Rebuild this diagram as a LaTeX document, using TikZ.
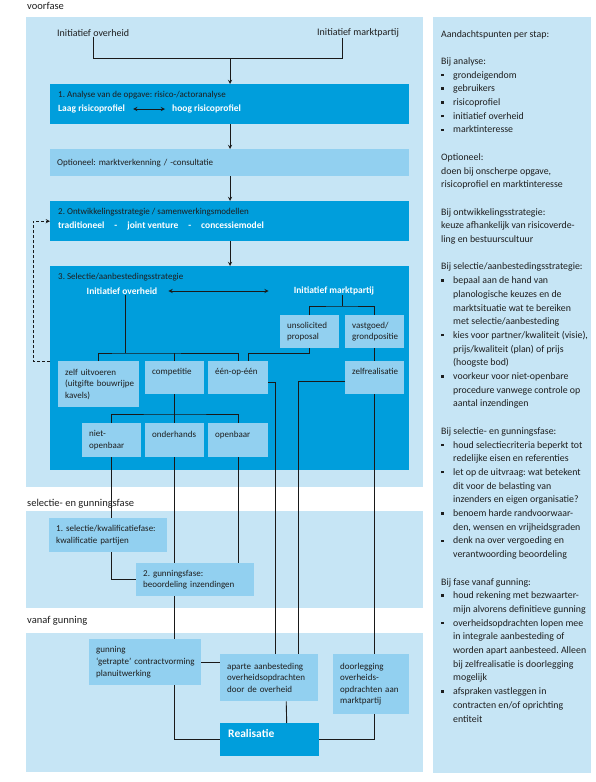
\documentclass[tikz,border=0pt]{standalone}
\usepackage{fontspec}
\setmainfont{Carlito}
\definecolor{phaseblue}{RGB}{0,158,220}
\definecolor{phaselight}{RGB}{198,229,245}
\definecolor{phasemid}{RGB}{146,208,240}
\definecolor{phasetext}{RGB}{30,30,30}
\usetikzlibrary{positioning}
\hyphenpenalty=10000
\exhyphenpenalty=10000
\newcommand{\noteitem}{\makebox[12pt][l]{\rule[2pt]{2.4pt}{2.4pt}}}
\newcommand{\notecont}{\hspace*{12pt}}

\begin{document}
\frenchspacing
\begin{tikzpicture}[x=1pt, y=-1pt, font=\fontsize{9}{11.6}\selectfont, text=phasetext]
    \tikzstyle{panel} = [fill=phaselight]
    \tikzstyle{darkbox} = [rectangle, fill=phaseblue, anchor=north west, inner sep=0pt]
    \tikzstyle{midbox} = [rectangle, fill=phasemid, anchor=north west, align=left,
        inner xsep=7pt, inner ysep=3pt]
    \tikzstyle{toptext} = [text depth=12pt]
    \tikzstyle{boxtext} = [anchor=west, inner sep=0pt]
    \tikzstyle{whitetext} = [anchor=west, inner sep=0pt, text=white,
        font=\fontsize{9.5}{11.6}\selectfont\bfseries]
    \tikzstyle{phasetitle} = [anchor=west, inner sep=0pt, font=\fontsize{10.5}{12}\selectfont]
    \tikzstyle{conn} = [line width=0.9pt, draw=black!90]
    \tikzstyle{arrow} = [conn, ->, >=stealth]

    \useasboundingbox (0,0) rectangle (596,782);
    \fill[panel] (26,17) rectangle (423,487);
    \fill[panel] (26,511) rectangle (423,608);
    \fill[panel] (26,633) rectangle (423,772);
    \fill[panel] (433,17) rectangle (591,773);

    \node[phasetitle] (voorfase) at (27,6) {voorfase};
    \node[phasetitle] (selfase) at (27,504) {selectie- en gunningsfase};
    \node[phasetitle] (vanaf) at (27,621) {vanaf gunning};

    \node[boxtext, font=\fontsize{10}{12}\selectfont] (initO) at (57,33) {Initiatief overheid};
    \node[boxtext, font=\fontsize{10}{12}\selectfont] (initM) at (317,33) {Initiatief marktpartij};

    \node[darkbox, minimum width=359pt, minimum height=40pt] (analyse) at (50,84) {};
    \node[boxtext] (analyseT) at (58,95) {1. Analyse van de opgave: risico-/actoranalyse};
    \node[whitetext] (laag) at (58,109) {Laag risicoprofiel};
    \node[whitetext] (hoog) at (172,109) {hoog risicoprofiel};

    \node[midbox, text width=345pt, minimum height=27pt] (verkenning) at (50,149) {Optioneel: marktverkenning / -consultatie};

    \node[darkbox, minimum width=359pt, minimum height=40pt] (strategie) at (50,201) {};
    \node[boxtext] (strategieT) at (58,212) {2. Ontwikkelingsstrategie / samenwerkingsmodellen};
    \node[whitetext] (modellen) at (58,226) {traditioneel\hspace{10pt}-\hspace{10pt}joint venture\hspace{10pt}-\hspace{10pt}concessiemodel};

    \node[darkbox, minimum width=359pt, minimum height=204pt] (selectie) at (50,266) {};
    \node[boxtext] (selectieT) at (58,277) {3. Selectie/aanbestedingsstrategie};
    \node[whitetext, anchor=center] (iO) at (122,291) {Initiatief overheid};
    \node[whitetext, anchor=center] (iM) at (334,291) {Initiatief marktpartij};

    \node[midbox, text width=45pt, minimum height=33pt] (unsol) at (280,315) {unsolicited\\proposal};
    \node[midbox, text width=45pt, minimum height=33pt] (vastgoed) at (345,315) {vastgoed/\\grondpositie};
    \node[midbox, text width=67pt, minimum height=46pt] (zelf) at (58,361) {zelf~uitvoeren\\(uitgifte~bouwrijpe\\kavels)};
    \node[midbox, toptext, text width=45pt, minimum height=33pt] (comp) at (145,361) {competitie};
    \node[midbox, toptext, text width=46pt, minimum height=33pt] (een) at (208,361) {één-op-één};
    \node[midbox, toptext, text width=45pt, minimum height=33pt] (zelfreal) at (345,361) {zelfrealisatie};
    \node[midbox, text width=45pt, minimum height=34pt] (niet) at (82,423) {niet-\\openbaar};
    \node[midbox, toptext, text width=45pt, minimum height=34pt] (onderh) at (145,423) {onderhands};
    \node[midbox, toptext, text width=46pt, minimum height=34pt] (openb) at (208,423) {openbaar};

    \node[midbox, text width=104pt, minimum height=34pt] (kwal) at (49,518) {1.~selectie/kwalificatiefase:\\kwalificatie~partijen};
    \node[midbox, text width=104pt, minimum height=33pt] (gunf) at (136,563) {2.~gunningsfase:\\beoordeling~inzendingen};

    \node[midbox, text width=98pt, minimum height=46pt] (gunning) at (89,639) {gunning\\`getrapte'~contractvorming\\planuitwerking};
    \node[midbox, text width=84pt, minimum height=47pt] (aparte) at (220,654) {aparte~aanbesteding\\overheidsopdrachten\\door~de~overheid};
    \node[midbox, text width=62pt, minimum height=60pt] (doorleg) at (333,654) {doorlegging\\overheids-\\opdrachten~aan\\marktpartij};
    \node[darkbox, toptext, align=left, inner xsep=8pt, text width=83pt, minimum height=33pt,
        text=white, font=\fontsize{11.5}{13}\selectfont\bfseries] (realisatie) at (220,723) {Realisatie};

    \coordinate (topjoin) at (230,58);
    \coordinate (mktdrop) at (342,58);
    \coordinate (ovbar) at (125,353);
    \coordinate (unsolbar) at (248,353);
    \coordinate (mktbar) at (342,306);
    \coordinate (compbar) at (175,414);
    \coordinate (eenline) at (275,382);
    \coordinate (zelfline) at (298,381);

    \draw[conn] (initO.south) |- (mktdrop) -- (mktdrop |- initM.south);
    \draw[arrow] (topjoin) -- (topjoin |- analyse.north);
    \draw[arrow] (analyse.south -| topjoin) -- (verkenning.north -| topjoin);
    \draw[arrow] (verkenning.south -| topjoin) -- (strategie.north -| topjoin);
    \draw[arrow] (strategie.south -| topjoin) -- (selectie.north -| topjoin);
    \draw[arrow, <->, shorten <=8pt, shorten >=7pt] (laag) -- (hoog);
    \draw[arrow, <->, shorten <=11pt, shorten >=25pt] (iO) -- (iM);
    \draw[arrow, dash pattern=on 3pt off 2pt] (selectie.west |- zelf.north) -- ++(-17,0) |- (strategie.west);

    \draw[conn] (ovbar |- iO.south) -- (ovbar);
    \draw[conn] (zelf.north) |- (ovbar) -| (een.north);
    \draw[conn] (comp.north) -- (comp.north |- ovbar);
    \draw[conn] (unsol.south) |- (unsolbar) -- (unsolbar |- een.north);
    \draw[conn] (mktbar |- iM.south) -- (mktbar);
    \draw[conn] (unsol.north) |- (mktbar) -| (vastgoed.north);
    \draw[conn] (vastgoed) -- (zelfreal);
    \draw[conn] (comp) -- (onderh);
    \draw[conn] (niet.north) |- (compbar) -| (openb.north);
    \draw[conn] (eenline -| een.east) -- (eenline) -- (eenline |- aparte.north);
    \draw[conn] (zelfline -| zelfreal.west) -- (zelfline) -- (zelfline |- aparte.north);
    \draw[conn] (zelfreal) -- (zelfreal |- doorleg.north);

    \draw[conn] (niet.south) -- (niet.south |- kwal.north);
    \draw[conn] (niet.south |- kwal.south) |- (gunf.west);
    \draw[conn] (onderh) -- (onderh |- gunf.north);
    \draw[conn] (openb) -- (openb |- gunf.north);
    \draw[conn] (onderh.south |- gunf.south) -- (onderh.south |- gunning.north);
    \draw[conn] (gunning.east) -- (gunning.east -| aparte.west);
    \draw[conn] ([xshift=17pt]aparte.south) -- ([xshift=17pt]realisatie.north);
    \draw[conn] (onderh.south |- gunning.south) |- (realisatie.west);
    \draw[conn] (zelfreal.south |- doorleg.south) |- (realisatie.east);

    \node[anchor=north west, inner sep=0pt, align=left, font=\fontsize{9.85}{13.7}\selectfont] (notes) at (441,30) {%
        Aandachtspunten per stap:\\[13.7pt]
        Bij analyse:\\
        \noteitem grondeigendom\\
        \noteitem gebruikers\\
        \noteitem risicoprofiel\\
        \noteitem initiatief overheid\\
        \noteitem marktinteresse\\[13.7pt]
        Optioneel:\\
        doen bij onscherpe opgave,\\
        risicoprofiel en marktinteresse\\[13.7pt]
        Bij ontwikkelingsstrategie:\\
        keuze afhankelijk van risicoverde-\\
        ling en bestuurscultuur\\[13.7pt]
        Bij selectie/aanbestedingsstrategie:\\
        \noteitem bepaal aan de hand van\\
        \notecont planologische keuzes en de\\
        \notecont marktsituatie wat te bereiken\\
        \notecont met selectie/aanbesteding\\
        \noteitem kies voor partner/kwaliteit (visie),\\
        \notecont prijs/kwaliteit (plan) of prijs\\
        \notecont (hoogste bod)\\
        \noteitem voorkeur voor niet-openbare\\
        \notecont procedure vanwege controle op\\
        \notecont aantal inzendingen\\[13.7pt]
        Bij selectie- en gunningsfase:\\
        \noteitem houd selectiecriteria beperkt tot\\
        \notecont redelijke eisen en referenties\\
        \noteitem let op de uitvraag: wat betekent\\
        \notecont dit voor de belasting van\\
        \notecont inzenders en eigen organisatie?\\
        \noteitem benoem harde randvoorwaar-\\
        \notecont den, wensen en vrijheidsgraden\\
        \noteitem denk na over vergoeding en\\
        \notecont verantwoording beoordeling\\[13.7pt]
        Bij fase vanaf gunning:\\
        \noteitem houd rekening met bezwaarter-\\
        \notecont mijn alvorens definitieve gunning\\
        \noteitem overheidsopdrachten lopen mee\\
        \notecont in integrale aanbesteding of\\
        \notecont worden apart aanbesteed. Alleen\\
        \notecont bij zelfrealisatie is doorlegging\\
        \notecont mogelijk\\
        \noteitem afspraken vastleggen in\\
        \notecont contracten en/of oprichting\\
        \notecont entiteit};
\end{tikzpicture}
\end{document}
